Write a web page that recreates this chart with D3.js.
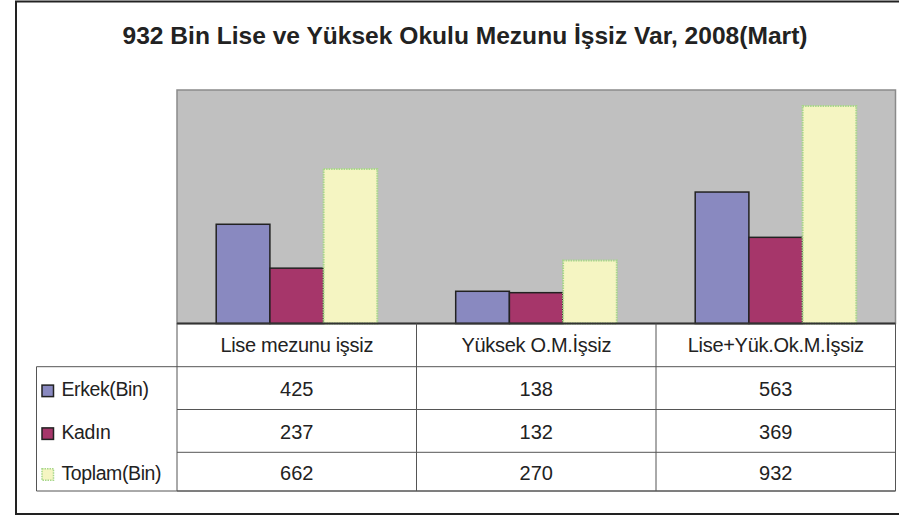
<!DOCTYPE html>
<html>
<head>
<meta charset="utf-8">
<script src="https://cdn.jsdelivr.net/npm/d3@7"></script>
<style>
  body { margin: 0; background: #fff; }
  svg text { font-family: "Liberation Sans", Arial, sans-serif; fill: #222; }
</style>
</head>
<body>
<svg id="chart" width="899" height="517"></svg>
<script>
// chart data
const title = '932 Bin Lise ve Yüksek Okulu Mezunu İşsiz Var, 2008(Mart)';
const categories = ['Lise mezunu işsiz', 'Yüksek O.M.İşsiz', 'Lise+Yük.Ok.M.İşsiz'];
const seriesNames = ['Erkek(Bin)', 'Kadın', 'Toplam(Bin)'];
const erkek = [425, 138, 563];
const kadin = [237, 132, 369];
const toplam = [662, 270, 932];
const seriesValues = [erkek, kadin, toplam];

const fills = ['#8989c0', '#a6366a', '#f5f5c2'];
const strokes = ['#222', '#222', '#a6d68a'];

const svg = d3.select('#chart');

// outer frame (right edge runs past the window)
svg.append('rect')
    .attr('x', 16).attr('y', 1.5)
    .attr('width', 900).attr('height', 512.5)
    .attr('fill', 'none')
    .attr('stroke', '#222')
    .attr('stroke-width', 2);

svg.append('text')
    .attr('x', 465).attr('y', 43.5)
    .attr('text-anchor', 'middle')
    .attr('font-size', 24)
    .attr('font-weight', 'bold')
    .attr('textLength', 685)
    .attr('lengthAdjust', 'spacingAndGlyphs')
    .text(title);

// plot area
const plot = { left: 177, right: 895.5, top: 90, bottom: 323.5 };

const x = d3.scaleBand()
    .domain(categories)
    .range([plot.left, plot.right]);

const xSub = d3.scaleBand()
    .domain(seriesNames)
    .range([0, x.bandwidth()])
    .paddingOuter(0.73);

const y = d3.scaleLinear()
    .domain([0, 1000])
    .range([plot.bottom, plot.top]);

svg.append('rect')
    .attr('x', plot.left).attr('y', plot.top)
    .attr('width', plot.right - plot.left)
    .attr('height', plot.bottom - plot.top)
    .attr('fill', '#c0c0c0')
    .attr('stroke', '#8a8a8a')
    .attr('stroke-width', 1.5);

// bars
const barData = [];
categories.forEach((cat, ci) => {
    seriesNames.forEach((s, si) => {
        barData.push({ cat, s, si, value: seriesValues[si][ci] });
    });
});

svg.append('g')
    .selectAll('rect')
    .data(barData)
    .enter()
    .append('rect')
    .attr('x', d => x(d.cat) + xSub(d.s))
    .attr('y', d => y(d.value))
    .attr('width', xSub.bandwidth())
    .attr('height', d => y(0) - y(d.value))
    .attr('fill', d => fills[d.si])
    .attr('stroke', d => strokes[d.si])
    .attr('stroke-width', d => d.si === 2 ? 2 : 1.5)
    .attr('stroke-dasharray', d => d.si === 2 ? '1.5,1' : null);

// axis line
svg.append('line')
    .attr('x1', plot.left).attr('x2', plot.right)
    .attr('y1', plot.bottom).attr('y2', plot.bottom)
    .attr('stroke', '#333')
    .attr('stroke-width', 2);

// data table
const tableLeft = 36.5;
const rowLines = [plot.bottom, 366.7, 409.5, 452.3, 491];
const grid = svg.append('g')
    .attr('stroke', '#555')
    .attr('stroke-width', 1);

// horizontal lines
rowLines.forEach((ry, i) => {
    if (i === 0) return;
    grid.append('line')
        .attr('x1', i === 1 ? tableLeft : plot.left).attr('x2', plot.right)
        .attr('y1', ry).attr('y2', ry);
});
grid.append('line')
    .attr('x1', tableLeft).attr('x2', plot.right)
    .attr('y1', rowLines[4]).attr('y2', rowLines[4]);

// vertical lines
grid.append('line')
    .attr('x1', tableLeft).attr('x2', tableLeft)
    .attr('y1', rowLines[1]).attr('y2', rowLines[4]);
categories.forEach(cat => {
    grid.append('line')
        .attr('x1', x(cat)).attr('x2', x(cat))
        .attr('y1', plot.bottom).attr('y2', rowLines[4]);
});
grid.append('line')
    .attr('x1', plot.right).attr('x2', plot.right)
    .attr('y1', plot.bottom).attr('y2', rowLines[4]);

// header labels
svg.append('g')
    .selectAll('text')
    .data(categories)
    .enter()
    .append('text')
    .attr('x', d => x(d) + x.bandwidth() / 2)
    .attr('y', (rowLines[0] + rowLines[1]) / 2 + 7)
    .attr('text-anchor', 'middle')
    .attr('font-size', 20)
    .attr('letter-spacing', -0.3)
    .text(d => d);

// rows
seriesNames.forEach((s, si) => {
    const mid = (rowLines[si + 1] + rowLines[si + 2]) / 2;
    svg.append('rect')
        .attr('x', 42).attr('y', mid - 3)
        .attr('width', 11.5).attr('height', 11.5)
        .attr('fill', fills[si])
        .attr('stroke', strokes[si])
        .attr('stroke-width', 1.5)
        .attr('stroke-dasharray', si === 2 ? '1.5,1' : null);
    svg.append('text')
        .attr('x', 61.5).attr('y', mid + 8)
        .attr('font-size', 19.5)
        .attr('letter-spacing', -0.4)
        .text(s);
    categories.forEach((cat, ci) => {
        svg.append('text')
            .attr('x', x(cat) + x.bandwidth() / 2)
            .attr('y', mid + 8)
            .attr('text-anchor', 'middle')
            .attr('font-size', 20)
            .text(seriesValues[si][ci]);
    });
});
</script>
</body>
</html>
